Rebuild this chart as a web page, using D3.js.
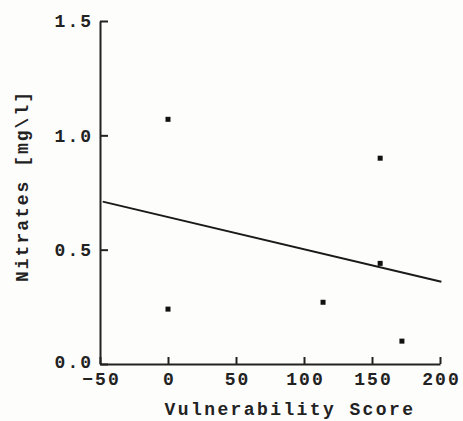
<!DOCTYPE html>
<html>
<head>
<meta charset="utf-8">
<script src="https://cdn.jsdelivr.net/npm/d3@7"></script>
<style>
  body { margin: 0; background: #fdfdfc; }
  text { font-family: "Liberation Mono", "DejaVu Sans Mono", monospace; font-weight: bold; fill: #222; }
</style>
</head>
<body>
<script>
// data
var scores   = [0, 0, 156, 156, 114, 172];
var nitrates = [1.07, 0.24, 0.90, 0.44, 0.27, 0.10];
// fitted line end points
var fitX = [-48, 201];
var fitY = [0.71, 0.36];
var xTicks = [-50, 0, 50, 100, 150, 200];
var yTicks = [0.0, 0.5, 1.0, 1.5];

var W = 463, H = 421;
var margin = {top: 21, right: 23, bottom: 57, left: 100},
    width = W - margin.left - margin.right,
    height = H - margin.top - margin.bottom;

var svg = d3.select("body")
  .append("svg")
    .attr("width", W)
    .attr("height", H)
  .append("g")
    .attr("transform", "translate(" + margin.left + "," + margin.top + ")");

var x = d3.scaleLinear().domain([-50, 200]).range([0, width]);
var y = d3.scaleLinear().domain([0, 1.5]).range([height, 0]);

// X axis, ticks pointing inward
var gx = svg.append("g")
  .attr("transform", "translate(0," + height + ")")
  .call(d3.axisBottom(x).tickValues(xTicks).tickFormat(d3.format("d"))
        .tickSizeInner(-7).tickSizeOuter(0).tickPadding(8));

// Y axis
var gy = svg.append("g")
  .call(d3.axisLeft(y).tickValues(yTicks).tickFormat(d3.format(".1f"))
        .tickSizeInner(-8).tickSizeOuter(0).tickPadding(7));

[gx, gy].forEach(function(g) {
  g.select(".domain").attr("stroke", "#222").attr("stroke-width", 2);
  g.selectAll(".tick line").attr("stroke", "#222").attr("stroke-width", 2);
  g.selectAll("text")
    .attr("fill", "#222")
    .style("font-size", "18px")
    .style("letter-spacing", "2px")
    .style("font-family", "Liberation Mono, monospace")
    .style("font-weight", "bold");
});
gx.selectAll("text").attr("dx", "1px");
// nudge the corner label so it clears the -50 label
gy.selectAll("text").filter(function(d) { return d === 0; }).attr("dy", "0.18em");

// Regression line
svg.append("path")
  .datum(d3.zip(fitX, fitY))
  .attr("fill", "none")
  .attr("stroke", "#1a1a1a")
  .attr("stroke-width", 2)
  .attr("d", d3.line().x(function(d) { return x(d[0]); }).y(function(d) { return y(d[1]); }));

// Points
svg.selectAll("rect.pt")
  .data(d3.zip(scores, nitrates))
  .enter()
  .append("rect")
    .attr("class", "pt")
    .attr("x", function(d) { return x(d[0]) - 2.5; })
    .attr("y", function(d) { return y(d[1]) - 2.5; })
    .attr("width", 5)
    .attr("height", 5)
    .attr("fill", "#111");

// Axis titles
svg.append("text")
  .attr("x", width / 2 + 20)
  .attr("y", height + 51)
  .attr("text-anchor", "middle")
  .style("font-size", "18px")
  .style("letter-spacing", "2.4px")
  .text("Vulnerability Score");

svg.append("text")
  .attr("transform", "translate(" + (-72) + "," + (186 - margin.top) + ")rotate(-90)")
  .attr("text-anchor", "middle")
  .style("font-size", "18px")
  .style("letter-spacing", "2px")
  .text("Nitrates [mg\\l]");
</script>
</body>
</html>
